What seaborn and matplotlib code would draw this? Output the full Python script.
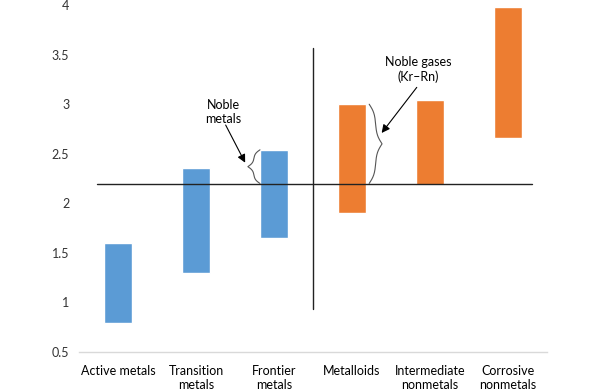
import numpy as np
import pandas as pd
import seaborn as sns
from matplotlib import pyplot as plt


CATEGORIES = ["Active metals", "Transition\nmetals", "Frontier\nmetals",
              "Metalloids", "Intermediate\nnonmetals", "Corrosive\nnonmetals"]
LOW = [0.79, 1.30, 1.65, 1.90, 2.19, 2.66]
HIGH = [1.60, 2.36, 2.54, 3.00, 3.04, 3.98]
GROUP = ["metal", "metal", "metal", "nonmetal", "nonmetal", "nonmetal"]
Y_TICKS = [0.5, 1, 1.5, 2, 2.5, 3, 3.5, 4]

DIVIDE_Y = 2.2
DIVIDE_X = 2.5
COLORS = {"metal": "#5b9bd5", "nonmetal": "#ed7d31"}
TEXT = "#333333"


def brace(ax, x_flat, x_tip, y0, y1, b=8.0):
    # vertical curly brace, flat side at x_flat, pointing toward x_tip
    s = np.linspace(0, 1, 80)
    h = 1 / (1 + np.exp(-b * s)) + 1 / (1 + np.exp(-b * (s - 1))) - 0.5
    h = (h - h.min()) / (h.max() - h.min())
    ym = (y0 + y1) / 2
    x_half = x_flat + h * (x_tip - x_flat)
    y_lo = y0 + s * (ym - y0)
    y_hi = y1 - s * (y1 - ym)
    xs = np.concatenate([x_half, x_half[::-1]])
    ys = np.concatenate([y_lo, y_hi[::-1]])
    ax.plot(xs, ys, color="#555555", lw=0.8, solid_capstyle="round")


def main():
    sns.set_theme(style="white")
    plt.rcParams["font.family"] = ["Lato", "DejaVu Sans"]

    df = pd.DataFrame({"category": CATEGORIES, "low": LOW, "high": HIGH, "group": GROUP})
    df["span"] = df["high"] - df["low"]

    fig = plt.figure(figsize=(6, 3.92), dpi=100)
    ax = fig.add_axes([0.1317, 0.102, 0.78, 0.885])
    for g, sub in df.groupby("group"):
        sns.barplot(sub, x="category", y="span", order=CATEGORIES, bottom=sub["low"].to_numpy(),
                    color=COLORS[g], saturation=1, width=0.35, errorbar=None, ax=ax)

    ax.plot([-0.27, 5.31], [DIVIDE_Y, DIVIDE_Y], color="#222222", lw=1.0)
    ax.plot([DIVIDE_X, DIVIDE_X], [0.93, 3.57], color="#222222", lw=1.0)

    brace(ax, 1.82, 1.665, DIVIDE_Y, HIGH[2])
    brace(ax, 3.22, 3.385, DIVIDE_Y, HIGH[3])

    arrow = dict(arrowstyle="-|>", color="black", lw=0.8, mutation_scale=12, shrinkA=0, shrinkB=0)
    ax.text(1.35, 2.92, "Noble\nmetals", ha="center", va="center", fontsize=9, color="black",
            linespacing=1.25)
    ax.annotate("", xy=(1.63, 2.41), xytext=(1.38, 2.79), arrowprops=arrow)
    ax.text(3.85, 3.35, "Noble gases\n(Kr\u2013Rn)", ha="center", va="center", fontsize=9,
            color="black", linespacing=1.25)
    ax.annotate("", xy=(3.38, 2.71), xytext=(3.83, 3.17), arrowprops=arrow)

    ax.set_xlim(-0.5, 5.5)
    ax.set_ylim(0.5, 4)
    ax.set_yticks(Y_TICKS)
    ax.set_yticklabels([f"{v:g}" for v in Y_TICKS])
    ax.set_xlabel("")
    ax.set_ylabel("")
    ax.tick_params(axis="x", length=0, pad=9, labelsize=9, labelcolor="black")
    ax.tick_params(axis="y", length=0, pad=7, labelsize=9, labelcolor=TEXT)
    for side in ["top", "right", "left"]:
        ax.spines[side].set_visible(False)
    ax.spines["bottom"].set_color("#d9d9d9")
    ax.spines["bottom"].set_linewidth(1.0)
    ax.grid(False)

    fig.savefig("out.png", dpi=100)
    plt.close(fig)


if __name__ == "__main__":
    main()
